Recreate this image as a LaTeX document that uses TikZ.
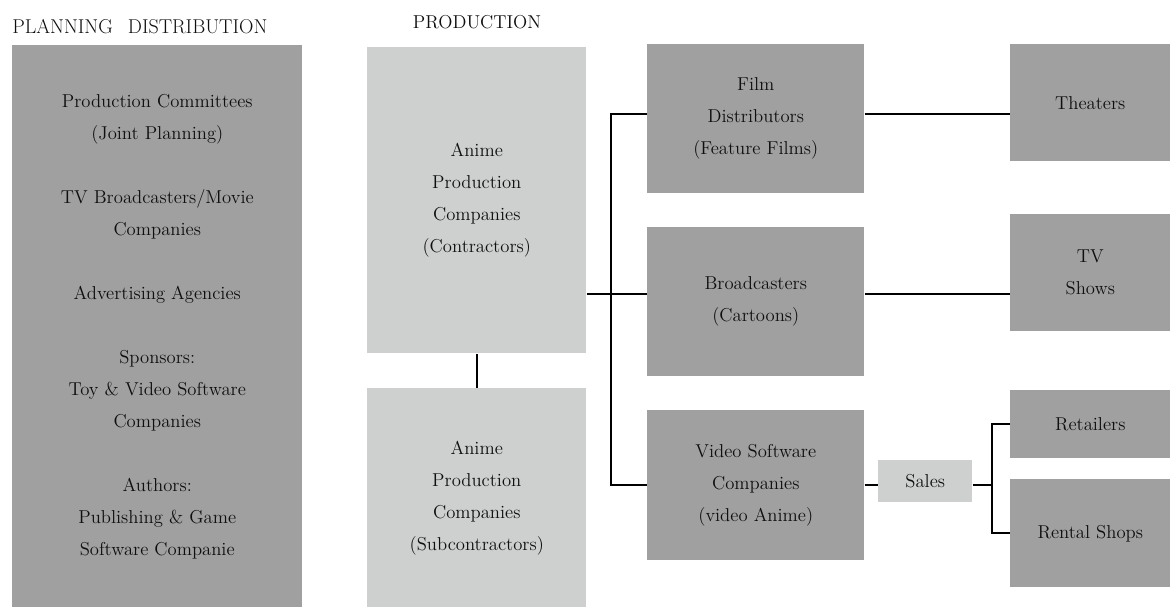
\documentclass[tikz,border=0pt]{standalone}
\usepackage{tikz}
\usetikzlibrary{positioning}
\definecolor{boxdark}{RGB}{160,160,160}
\definecolor{boxlight}{RGB}{206,208,207}
\definecolor{inktext}{RGB}{15,15,15}
\newdimen\px \px=0.75pt

\begin{document}
\begin{tikzpicture}[x=0.75pt, y=-0.75pt,
    blk/.style={anchor=north west, inner sep=0pt, align=center, text=inktext,
                font=\fontsize{14}{24}\selectfont},
    darkblk/.style={blk, fill=boxdark},
    lightblk/.style={blk, fill=boxlight},
    heading/.style={inner sep=0pt, text=inktext, font=\fontsize{14}{24}\selectfont},
    link/.style={line width=1.3pt, black}]
  \useasboundingbox (0,0) rectangle (1170,607);
  % Headings
  \node[heading, anchor=west, font=\fontsize{15}{24}\selectfont] (hplan) at (12,27)
    {PLANNING\hspace{0.75em}DISTRIBUTION};
  \node[heading] (hprod) at (477,22) {PRODUCTION};
  % Planning
  \node[darkblk, minimum width=290\px, minimum height=562\px] (plan) at (12,45)
    {Production Committees\\(Joint Planning)\\[24pt]
     TV Broadcasters/Movie\\Companies\\[24pt]
     Advertising Agencies\\[24pt]
     Sponsors:\\Toy \& Video Software\\Companies\\[24pt]
     Authors:\\Publishing \& Game\\Software Companie};
  % Production
  \node[lightblk, minimum width=219\px, minimum height=306\px] (contr) at (367,47)
    {Anime\\Production\\Companies\\(Contractors)};
  \node[lightblk, minimum width=219\px, minimum height=219\px] (subcontr) at (367,388)
    {Anime\\Production\\Companies\\(Subcontractors)};
  % Distributors
  \foreach \n/\y/\h/\t in {film/44/149/{Film\\Distributors\\(Feature Films)},
                           brd/227/149/{Broadcasters\\(Cartoons)},
                           video/410/150/{Video Software\\Companies\\(video Anime)}} {
    \node[darkblk, minimum width=217\px, minimum height=\h\px] (\n) at (647,\y) {\t};
  }
  % Outlets
  \foreach \n/\y/\h/\t in {theaters/44/117/Theaters, tv/214/117/{TV\\Shows},
                           retail/390/68/Retailers, rental/479/108/Rental Shops} {
    \node[darkblk, minimum width=160\px, minimum height=\h\px] (\n) at (1010,\y) {\t};
  }
  \node[lightblk, minimum width=94\px, minimum height=42\px] (sales) at (878,460) {Sales};
  % Connectors
  \coordinate (lvl1) at (0,114);
  \coordinate (trunk) at (611,294);
  \coordinate (fork) at (992,485);
  \draw[link] (contr.south) -- (subcontr.north);
  \draw[link] (contr.east |- trunk) -- (brd.west |- trunk);
  \draw[link] (film.west |- lvl1) -| (trunk) |- (video.west);
  \draw[link] (film.east |- lvl1) -- (theaters.west |- lvl1);
  \draw[link] (brd.east |- trunk) -- (tv.west |- trunk);
  \draw[link] (video.east) -- (sales.west |- video.east);
  \draw[link] (sales.east |- fork) -- (fork);
  \draw[link] (retail.west) -| (fork) |- (rental.west);
\end{tikzpicture}
\end{document}
